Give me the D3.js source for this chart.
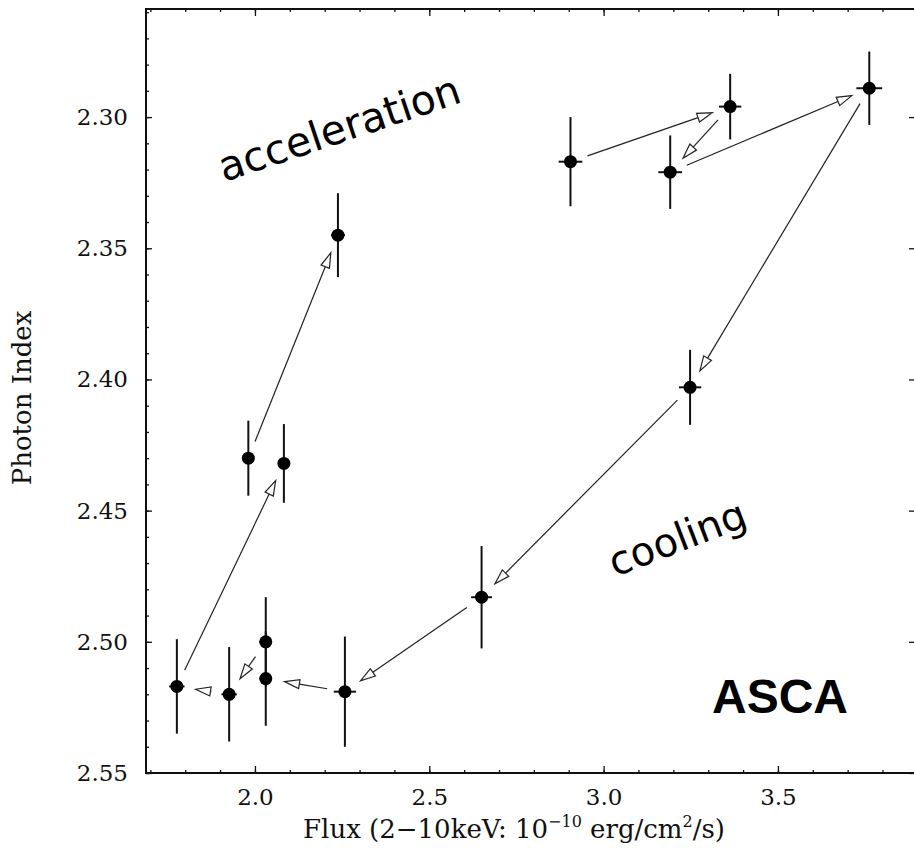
<!DOCTYPE html>
<html lang="en">
<head>
<meta charset="UTF-8">
<title>ASCA photon index vs flux</title>
<script src="https://d3js.org/d3.v7.min.js"></script>
<style>
    body { margin: 0; background: #fff; }
    svg { display: block; }
    .tickText { font-family: "DejaVu Serif", serif; font-size: 23px; fill: #111; }
    .axisTitle { font-family: "DejaVu Serif", serif; font-size: 26px; fill: #111; }
</style>
</head>
<body>
<script>

    // observations in time order (flux in 1e-10 erg/cm2/s, photon index)
    var labels    = ["G", "F", "E", "L", "A", "C", "B", "D", "M", "N", "K", "J", "I", "H"];
    var flux      = [1.776, 2.083, 1.981, 2.238, 2.905, 3.363, 3.191, 3.762, 3.248, 2.650, 2.258, 2.031, 2.031, 1.926];
    var fluxErr   = [0.022, 0.015, 0.015, 0.020, 0.034, 0.032, 0.034, 0.037, 0.032, 0.030, 0.032, 0.018, 0.018, 0.022];
    var photonIdx = [2.517, 2.432, 2.430, 2.345, 2.317, 2.296, 2.321, 2.289, 2.403, 2.483, 2.519, 2.514, 2.500, 2.520];
    var idxErr    = [0.018, 0.015, 0.0143, 0.016, 0.017, 0.0125, 0.014, 0.014, 0.0143, 0.0195, 0.021, 0.018, 0.017, 0.018];

    // arrows drawn between observations (index into arrays above)
    var arrowFrom = [0, 2, 4, 5, 6, 7, 8, 9, 10, 12, 13];
    var arrowTo   = [1, 3, 5, 6, 7, 8, 9, 10, 11, 13, 0];

    var xTicks = [2.0, 2.5, 3.0, 3.5];
    var yTicks = [2.30, 2.35, 2.40, 2.45, 2.50, 2.55];

    var width = 914, height = 848;
    var pLeft = 146, pRight = 916, pTop = 9, pBottom = 773;

    var svg = d3.select("body").append("svg")
        .attr("width", width)
        .attr("height", height);

    svg.append("rect").attr("width", width).attr("height", height).attr("fill", "#fff");

    var x = d3.scaleLinear().domain([1.6875, 3.896]).range([pLeft, pRight]);
    var y = d3.scaleLinear().domain([2.2588, 2.55]).range([pTop, pBottom]);

    // frame
    svg.append("rect")
        .attr("x", pLeft).attr("y", pTop)
        .attr("width", pRight - pLeft).attr("height", pBottom - pTop)
        .attr("fill", "none").attr("stroke", "#111").attr("stroke-width", 2);

    function minor(start, stop, step) {
        var out = [];
        for (var v = start; v <= stop + 1e-9; v += step) out.push(+v.toFixed(3));
        return out;
    }
    var xMinor = minor(1.7, 3.8, 0.1);
    var yMinor = minor(2.26, 2.55, 0.01);

    function tickGroup(axis, tr) {
        var g = svg.append("g").attr("transform", tr).call(axis);
        g.select(".domain").remove();
        g.selectAll("line").attr("stroke", "#111").attr("stroke-width", 1.3);
        return g;
    }

    // bottom
    tickGroup(d3.axisBottom(x).tickValues(xMinor).tickSize(-3).tickFormat(""), "translate(0," + pBottom + ")");
    var gb = tickGroup(d3.axisBottom(x).tickValues(xTicks).tickSize(-7).tickPadding(16)
        .tickFormat(d3.format(".1f")), "translate(0," + pBottom + ")");
    gb.attr("font-size", null).attr("font-family", null);
    gb.selectAll("text").attr("class", "tickText");

    // top
    tickGroup(d3.axisTop(x).tickValues(xMinor).tickSize(-3).tickFormat(""), "translate(0," + pTop + ")");
    tickGroup(d3.axisTop(x).tickValues(xTicks).tickSize(-7).tickFormat(""), "translate(0," + pTop + ")");

    // left
    tickGroup(d3.axisLeft(y).tickValues(yMinor).tickSize(-3).tickFormat(""), "translate(" + pLeft + ",0)");
    var gl = tickGroup(d3.axisLeft(y).tickValues(yTicks).tickSize(-6).tickPadding(18)
        .tickFormat(d3.format(".2f")), "translate(" + pLeft + ",0)");
    gl.attr("font-size", null).attr("font-family", null);
    gl.selectAll("text").attr("class", "tickText");

    // right
    tickGroup(d3.axisRight(y).tickValues(yTicks).tickSize(-7).tickFormat(""), "translate(" + pRight + ",0)");

    // axis titles
    var xt = svg.append("text").attr("class", "axisTitle")
        .attr("x", 514).attr("y", 838).attr("text-anchor", "middle");
    xt.append("tspan").text("Flux (2\u221210keV: 10");
    xt.append("tspan").attr("dy", -11).attr("font-size", 16).text("\u221210");
    xt.append("tspan").attr("dy", 11).text(" erg/cm");
    xt.append("tspan").attr("dy", -11).attr("font-size", 16).text("2");
    xt.append("tspan").attr("dy", 11).text("/s)");

    svg.append("text").attr("class", "axisTitle")
        .attr("transform", "translate(31,398) rotate(-90)")
        .attr("text-anchor", "middle")
        .text("Photon Index");

    // arrows
    var arrowG = svg.append("g");
    for (var k = 0; k < arrowFrom.length; k++) {
        var a = arrowFrom[k], b = arrowTo[k];
        var x1 = x(flux[a]), y1 = y(photonIdx[a]);
        var x2 = x(flux[b]), y2 = y(photonIdx[b]);
        var dx = x2 - x1, dy = y2 - y1, len = Math.sqrt(dx * dx + dy * dy);
        var ux = dx / len, uy = dy / len;
        var sx = x1 + ux * 18, sy = y1 + uy * 18;
        var tx = x2 - ux * 19, ty = y2 - uy * 19;
        var hl = 15, hw = 4.5;
        var bx = tx - ux * hl, by = ty - uy * hl;
        arrowG.append("line")
            .attr("x1", sx).attr("y1", sy).attr("x2", bx).attr("y2", by)
            .attr("stroke", "#222").attr("stroke-width", 1.2);
        arrowG.append("path")
            .attr("d", "M" + tx + "," + ty +
                "L" + (bx - uy * hw) + "," + (by + ux * hw) +
                "L" + (bx + uy * hw) + "," + (by - ux * hw) + "Z")
            .attr("fill", "#fff").attr("stroke", "#222").attr("stroke-width", 1.2);
    }

    // error bars and points
    var pts = svg.append("g");
    pts.selectAll(".vbar").data(labels).enter().append("line")
        .attr("x1", function (d, i) { return x(flux[i]); })
        .attr("x2", function (d, i) { return x(flux[i]); })
        .attr("y1", function (d, i) { return y(photonIdx[i] - idxErr[i]); })
        .attr("y2", function (d, i) { return y(photonIdx[i] + idxErr[i]); })
        .attr("stroke", "#111").attr("stroke-width", 2);
    pts.selectAll(".hbar").data(labels).enter().append("line")
        .attr("x1", function (d, i) { return x(flux[i] - fluxErr[i]); })
        .attr("x2", function (d, i) { return x(flux[i] + fluxErr[i]); })
        .attr("y1", function (d, i) { return y(photonIdx[i]); })
        .attr("y2", function (d, i) { return y(photonIdx[i]); })
        .attr("stroke", "#111").attr("stroke-width", 2);
    pts.selectAll("circle").data(labels).enter().append("circle")
        .attr("cx", function (d, i) { return x(flux[i]); })
        .attr("cy", function (d, i) { return y(photonIdx[i]); })
        .attr("r", 6.5)
        .attr("fill", "#000");

    // annotations
    svg.append("text")
        .attr("transform", "translate(224,182) rotate(-18.5)")
        .attr("font-family", "'DejaVu Sans', sans-serif").attr("font-size", 41)
        .text("acceleration");
    svg.append("text")
        .attr("transform", "translate(615,577) rotate(-21)")
        .attr("font-family", "'DejaVu Sans', sans-serif").attr("font-size", 40)
        .text("cooling");
    svg.append("text")
        .attr("x", 780).attr("y", 713).attr("text-anchor", "middle")
        .attr("font-family", "'Liberation Sans', Arial, sans-serif")
        .attr("font-weight", "bold").attr("font-size", 48)
        .text("ASCA");

</script>
</body>
</html>
